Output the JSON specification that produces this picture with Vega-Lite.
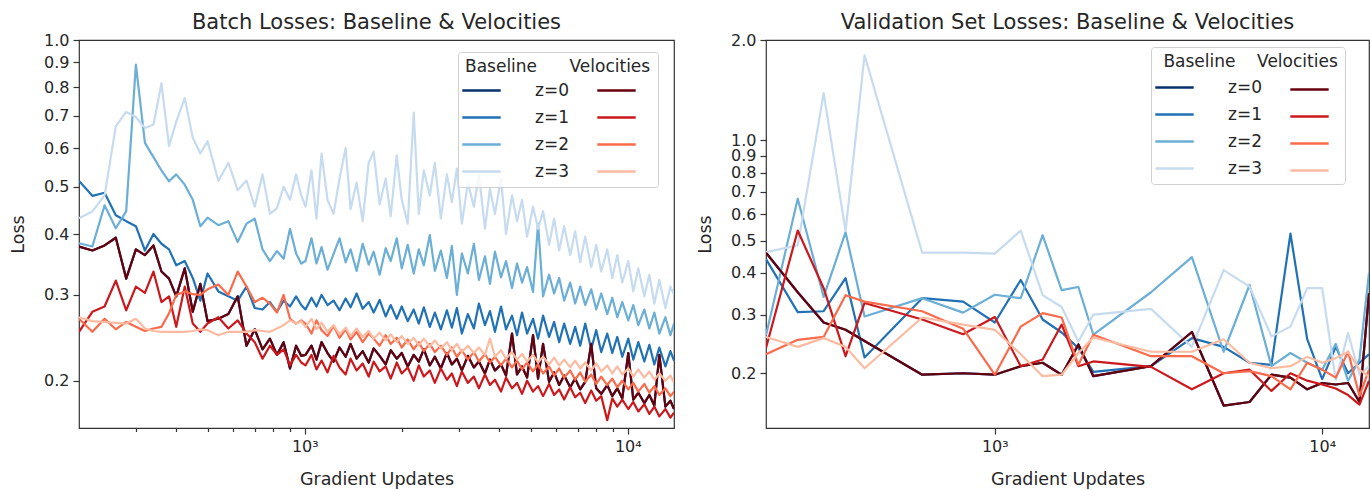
{
  "$schema": "https://vega.github.io/schema/vega-lite/v6.json",
  "background": "white",
  "padding": {"left": 8, "top": 11, "right": 0, "bottom": 0},
  "spacing": 20,
  "config": {
    "font": "DejaVu Sans",
    "view": {"stroke": "#333333", "strokeWidth": 1.2},
    "axis": {"domain": false, "grid": false, "labelFontSize": 16, "labelColor": "#262626", "tickColor": "#333333", "tickWidth": 1.2, "tickSize": 6, "labelPadding": 4, "titleFontSize": 17.5, "titleFontWeight": "normal", "titleColor": "#262626", "labelOverlap": false, "labelFlush": false},
    "title": {"fontSize": 21, "fontWeight": "normal", "color": "#262626", "offset": -1},
    "legend": {"orient": "none", "direction": "vertical", "titleFontSize": 17, "titleFontWeight": "normal", "titleColor": "#262626", "labelFontSize": 17, "labelColor": "#262626", "symbolSize": 576, "symbolStrokeWidth": 2.5, "symbolType": "M-1.6,0H1.6", "rowPadding": 5, "labelLimit": 400, "titleLimit": 400}
  },
  "datasets": {
    "batchBase": [
      {"x":200,"y":0.377,"z":0},{"x":220,"y":0.370,"z":0},{"x":240,"y":0.379,"z":0},{"x":260,"y":0.393,"z":0},{"x":280,"y":0.324,"z":0},{"x":300,"y":0.372,"z":0},{"x":320,"y":0.362,"z":0},{"x":340,"y":0.379,"z":0},{"x":360,"y":0.335,"z":0},{"x":380,"y":0.324,"z":0},{"x":400,"y":0.298,"z":0},{"x":425,"y":0.340,"z":0},{"x":450,"y":0.277,"z":0},{"x":475,"y":0.316,"z":0},{"x":500,"y":0.265,"z":0},{"x":540,"y":0.268,"z":0},{"x":580,"y":0.274,"z":0},{"x":620,"y":0.298,"z":0},{"x":660,"y":0.236,"z":0},{"x":700,"y":0.255,"z":0},{"x":740,"y":0.232,"z":0},{"x":780,"y":0.244,"z":0},{"x":820,"y":0.226,"z":0},{"x":860,"y":0.240,"z":0},{"x":900,"y":0.212,"z":0},{"x":940,"y":0.236,"z":0},{"x":975,"y":0.225,"z":0},
      {"x":1005,"y":0.226,"z":0},{"x":1049,"y":0.236,"z":0},{"x":1087,"y":0.221,"z":0},{"x":1127,"y":0.240,"z":0},{"x":1176,"y":0.228,"z":0},{"x":1228,"y":0.219,"z":0},{"x":1281,"y":0.234,"z":0},{"x":1338,"y":0.224,"z":0},{"x":1386,"y":0.238,"z":0},{"x":1447,"y":0.222,"z":0},{"x":1511,"y":0.230,"z":0},{"x":1577,"y":0.218,"z":0},{"x":1634,"y":0.233,"z":0},{"x":1705,"y":0.225,"z":0},{"x":1780,"y":0.216,"z":0},{"x":1845,"y":0.231,"z":0},{"x":1926,"y":0.222,"z":0},{"x":1996,"y":0.228,"z":0},{"x":2083,"y":0.214,"z":0},{"x":2174,"y":0.226,"z":0},{"x":2254,"y":0.219,"z":0},{"x":2336,"y":0.232,"z":0},{"x":2438,"y":0.215,"z":0},{"x":2527,"y":0.224,"z":0},{"x":2638,"y":0.212,"z":0},{"x":2754,"y":0.228,"z":0},{"x":2853,"y":0.216,"z":0},{"x":2957,"y":0.222,"z":0},{"x":3064,"y":0.210,"z":0},{"x":3198,"y":0.225,"z":0},{"x":3338,"y":0.213,"z":0},{"x":3460,"y":0.219,"z":0},{"x":3612,"y":0.207,"z":0},{"x":3743,"y":0.221,"z":0},{"x":3879,"y":0.210,"z":0},{"x":4050,"y":0.216,"z":0},{"x":4197,"y":0.205,"z":0},{"x":4381,"y":0.250,"z":0},{"x":4540,"y":0.206,"z":0},{"x":4705,"y":0.214,"z":0},{"x":4877,"y":0.203,"z":0},{"x":5089,"y":0.248,"z":0},{"x":5274,"y":0.202,"z":0},{"x":5466,"y":0.238,"z":0},{"x":5706,"y":0.199,"z":0},{"x":5914,"y":0.208,"z":0},{"x":6131,"y":0.196,"z":0},{"x":6353,"y":0.205,"z":0},{"x":6631,"y":0.194,"z":0},{"x":6872,"y":0.202,"z":0},{"x":7122,"y":0.192,"z":0},{"x":7382,"y":0.199,"z":0},{"x":7704,"y":0.238,"z":0},{"x":7984,"y":0.193,"z":0},{"x":8275,"y":0.188,"z":0},{"x":8637,"y":0.196,"z":0},{"x":8952,"y":0.186,"z":0},{"x":9278,"y":0.193,"z":0},{"x":9614,"y":0.184,"z":0},{"x":10035,"y":0.228,"z":0},{"x":10399,"y":0.183,"z":0},{"x":10779,"y":0.189,"z":0},{"x":11251,"y":0.180,"z":0},{"x":11660,"y":0.187,"z":0},{"x":12083,"y":0.178,"z":0},{"x":12521,"y":0.226,"z":0},{"x":13075,"y":0.177,"z":0},{"x":13549,"y":0.182,"z":0},{"x":13900,"y":0.175,"z":0},
      {"x":200,"y":0.514,"z":1},{"x":220,"y":0.479,"z":1},{"x":240,"y":0.486,"z":1},{"x":260,"y":0.437,"z":1},{"x":280,"y":0.425,"z":1},{"x":300,"y":0.415,"z":1},{"x":320,"y":0.370,"z":1},{"x":340,"y":0.400,"z":1},{"x":360,"y":0.382,"z":1},{"x":380,"y":0.372,"z":1},{"x":400,"y":0.345,"z":1},{"x":425,"y":0.352,"z":1},{"x":450,"y":0.325,"z":1},{"x":475,"y":0.292,"z":1},{"x":500,"y":0.332,"z":1},{"x":540,"y":0.305,"z":1},{"x":580,"y":0.298,"z":1},{"x":620,"y":0.292,"z":1},{"x":660,"y":0.312,"z":1},{"x":700,"y":0.282,"z":1},{"x":740,"y":0.280,"z":1},{"x":780,"y":0.290,"z":1},{"x":820,"y":0.277,"z":1},{"x":860,"y":0.292,"z":1},{"x":900,"y":0.284,"z":1},{"x":940,"y":0.298,"z":1},{"x":975,"y":0.286,"z":1},
      {"x":1005,"y":0.280,"z":1},{"x":1049,"y":0.296,"z":1},{"x":1087,"y":0.284,"z":1},{"x":1127,"y":0.300,"z":1},{"x":1176,"y":0.286,"z":1},{"x":1228,"y":0.292,"z":1},{"x":1281,"y":0.279,"z":1},{"x":1338,"y":0.295,"z":1},{"x":1386,"y":0.283,"z":1},{"x":1447,"y":0.302,"z":1},{"x":1511,"y":0.281,"z":1},{"x":1577,"y":0.290,"z":1},{"x":1634,"y":0.276,"z":1},{"x":1705,"y":0.293,"z":1},{"x":1780,"y":0.271,"z":1},{"x":1845,"y":0.286,"z":1},{"x":1926,"y":0.268,"z":1},{"x":1996,"y":0.284,"z":1},{"x":2083,"y":0.265,"z":1},{"x":2174,"y":0.280,"z":1},{"x":2254,"y":0.262,"z":1},{"x":2336,"y":0.283,"z":1},{"x":2438,"y":0.258,"z":1},{"x":2527,"y":0.276,"z":1},{"x":2638,"y":0.255,"z":1},{"x":2754,"y":0.279,"z":1},{"x":2853,"y":0.257,"z":1},{"x":2957,"y":0.282,"z":1},{"x":3064,"y":0.250,"z":1},{"x":3198,"y":0.274,"z":1},{"x":3338,"y":0.256,"z":1},{"x":3460,"y":0.288,"z":1},{"x":3612,"y":0.260,"z":1},{"x":3743,"y":0.278,"z":1},{"x":3879,"y":0.252,"z":1},{"x":4050,"y":0.284,"z":1},{"x":4197,"y":0.255,"z":1},{"x":4381,"y":0.272,"z":1},{"x":4540,"y":0.248,"z":1},{"x":4705,"y":0.276,"z":1},{"x":4877,"y":0.250,"z":1},{"x":5089,"y":0.268,"z":1},{"x":5274,"y":0.244,"z":1},{"x":5466,"y":0.272,"z":1},{"x":5706,"y":0.246,"z":1},{"x":5914,"y":0.264,"z":1},{"x":6131,"y":0.240,"z":1},{"x":6353,"y":0.262,"z":1},{"x":6631,"y":0.238,"z":1},{"x":6872,"y":0.258,"z":1},{"x":7122,"y":0.236,"z":1},{"x":7382,"y":0.262,"z":1},{"x":7704,"y":0.232,"z":1},{"x":7984,"y":0.254,"z":1},{"x":8275,"y":0.229,"z":1},{"x":8637,"y":0.250,"z":1},{"x":8952,"y":0.228,"z":1},{"x":9278,"y":0.246,"z":1},{"x":9614,"y":0.224,"z":1},{"x":10035,"y":0.244,"z":1},{"x":10399,"y":0.221,"z":1},{"x":10779,"y":0.240,"z":1},{"x":11251,"y":0.219,"z":1},{"x":11660,"y":0.237,"z":1},{"x":12083,"y":0.216,"z":1},{"x":12521,"y":0.234,"z":1},{"x":13075,"y":0.214,"z":1},{"x":13549,"y":0.230,"z":1},{"x":13900,"y":0.220,"z":1},
      {"x":200,"y":0.383,"z":2},{"x":220,"y":0.377,"z":2},{"x":240,"y":0.458,"z":2},{"x":260,"y":0.411,"z":2},{"x":280,"y":0.445,"z":2},{"x":300,"y":0.890,"z":2},{"x":320,"y":0.615,"z":2},{"x":340,"y":0.575,"z":2},{"x":360,"y":0.540,"z":2},{"x":380,"y":0.513,"z":2},{"x":400,"y":0.530,"z":2},{"x":425,"y":0.505,"z":2},{"x":450,"y":0.470,"z":2},{"x":475,"y":0.415,"z":2},{"x":500,"y":0.432,"z":2},{"x":540,"y":0.417,"z":2},{"x":580,"y":0.425,"z":2},{"x":620,"y":0.385,"z":2},{"x":660,"y":0.420,"z":2},{"x":700,"y":0.430,"z":2},{"x":740,"y":0.372,"z":2},{"x":780,"y":0.352,"z":2},{"x":820,"y":0.369,"z":2},{"x":860,"y":0.356,"z":2},{"x":900,"y":0.410,"z":2},{"x":940,"y":0.365,"z":2},{"x":975,"y":0.348,"z":2},
      {"x":1005,"y":0.352,"z":2},{"x":1049,"y":0.392,"z":2},{"x":1087,"y":0.348,"z":2},{"x":1127,"y":0.376,"z":2},{"x":1176,"y":0.338,"z":2},{"x":1228,"y":0.364,"z":2},{"x":1281,"y":0.392,"z":2},{"x":1338,"y":0.350,"z":2},{"x":1386,"y":0.372,"z":2},{"x":1447,"y":0.336,"z":2},{"x":1511,"y":0.382,"z":2},{"x":1577,"y":0.346,"z":2},{"x":1634,"y":0.368,"z":2},{"x":1705,"y":0.330,"z":2},{"x":1780,"y":0.374,"z":2},{"x":1845,"y":0.352,"z":2},{"x":1926,"y":0.392,"z":2},{"x":1996,"y":0.340,"z":2},{"x":2083,"y":0.380,"z":2},{"x":2174,"y":0.332,"z":2},{"x":2254,"y":0.372,"z":2},{"x":2336,"y":0.345,"z":2},{"x":2438,"y":0.398,"z":2},{"x":2527,"y":0.336,"z":2},{"x":2638,"y":0.370,"z":2},{"x":2754,"y":0.325,"z":2},{"x":2853,"y":0.378,"z":2},{"x":2957,"y":0.300,"z":2},{"x":3064,"y":0.365,"z":2},{"x":3198,"y":0.332,"z":2},{"x":3338,"y":0.382,"z":2},{"x":3460,"y":0.322,"z":2},{"x":3612,"y":0.360,"z":2},{"x":3743,"y":0.316,"z":2},{"x":3879,"y":0.368,"z":2},{"x":4050,"y":0.326,"z":2},{"x":4197,"y":0.352,"z":2},{"x":4381,"y":0.310,"z":2},{"x":4540,"y":0.348,"z":2},{"x":4705,"y":0.318,"z":2},{"x":4877,"y":0.342,"z":2},{"x":5089,"y":0.304,"z":2},{"x":5274,"y":0.420,"z":2},{"x":5466,"y":0.298,"z":2},{"x":5706,"y":0.330,"z":2},{"x":5914,"y":0.302,"z":2},{"x":6131,"y":0.325,"z":2},{"x":6353,"y":0.292,"z":2},{"x":6631,"y":0.318,"z":2},{"x":6872,"y":0.288,"z":2},{"x":7122,"y":0.312,"z":2},{"x":7382,"y":0.286,"z":2},{"x":7704,"y":0.308,"z":2},{"x":7984,"y":0.280,"z":2},{"x":8275,"y":0.302,"z":2},{"x":8637,"y":0.274,"z":2},{"x":8952,"y":0.296,"z":2},{"x":9278,"y":0.270,"z":2},{"x":9614,"y":0.290,"z":2},{"x":10035,"y":0.266,"z":2},{"x":10399,"y":0.286,"z":2},{"x":10779,"y":0.260,"z":2},{"x":11251,"y":0.280,"z":2},{"x":11660,"y":0.256,"z":2},{"x":12083,"y":0.276,"z":2},{"x":12521,"y":0.250,"z":2},{"x":13075,"y":0.270,"z":2},{"x":13549,"y":0.248,"z":2},{"x":13900,"y":0.262,"z":2},
      {"x":200,"y":0.431,"z":3},{"x":220,"y":0.445,"z":3},{"x":240,"y":0.480,"z":3},{"x":260,"y":0.665,"z":3},{"x":280,"y":0.712,"z":3},{"x":300,"y":0.695,"z":3},{"x":320,"y":0.660,"z":3},{"x":340,"y":0.670,"z":3},{"x":360,"y":0.815,"z":3},{"x":380,"y":0.606,"z":3},{"x":400,"y":0.680,"z":3},{"x":425,"y":0.760,"z":3},{"x":450,"y":0.630,"z":3},{"x":475,"y":0.585,"z":3},{"x":500,"y":0.620,"z":3},{"x":540,"y":0.514,"z":3},{"x":580,"y":0.560,"z":3},{"x":620,"y":0.492,"z":3},{"x":660,"y":0.515,"z":3},{"x":700,"y":0.455,"z":3},{"x":740,"y":0.530,"z":3},{"x":780,"y":0.440,"z":3},{"x":820,"y":0.452,"z":3},{"x":860,"y":0.500,"z":3},{"x":900,"y":0.470,"z":3},{"x":940,"y":0.530,"z":3},{"x":975,"y":0.480,"z":3},
      {"x":1005,"y":0.455,"z":3},{"x":1049,"y":0.540,"z":3},{"x":1087,"y":0.430,"z":3},{"x":1127,"y":0.585,"z":3},{"x":1176,"y":0.470,"z":3},{"x":1228,"y":0.440,"z":3},{"x":1281,"y":0.520,"z":3},{"x":1338,"y":0.600,"z":3},{"x":1386,"y":0.450,"z":3},{"x":1447,"y":0.510,"z":3},{"x":1511,"y":0.425,"z":3},{"x":1577,"y":0.560,"z":3},{"x":1634,"y":0.590,"z":3},{"x":1705,"y":0.460,"z":3},{"x":1780,"y":0.520,"z":3},{"x":1845,"y":0.435,"z":3},{"x":1926,"y":0.580,"z":3},{"x":1996,"y":0.470,"z":3},{"x":2083,"y":0.420,"z":3},{"x":2174,"y":0.710,"z":3},{"x":2254,"y":0.440,"z":3},{"x":2336,"y":0.540,"z":3},{"x":2438,"y":0.480,"z":3},{"x":2527,"y":0.560,"z":3},{"x":2638,"y":0.430,"z":3},{"x":2754,"y":0.530,"z":3},{"x":2853,"y":0.465,"z":3},{"x":2957,"y":0.545,"z":3},{"x":3064,"y":0.420,"z":3},{"x":3198,"y":0.510,"z":3},{"x":3338,"y":0.455,"z":3},{"x":3460,"y":0.530,"z":3},{"x":3612,"y":0.410,"z":3},{"x":3743,"y":0.495,"z":3},{"x":3879,"y":0.440,"z":3},{"x":4050,"y":0.520,"z":3},{"x":4197,"y":0.400,"z":3},{"x":4381,"y":0.480,"z":3},{"x":4540,"y":0.425,"z":3},{"x":4705,"y":0.470,"z":3},{"x":4877,"y":0.395,"z":3},{"x":5089,"y":0.455,"z":3},{"x":5274,"y":0.410,"z":3},{"x":5466,"y":0.445,"z":3},{"x":5706,"y":0.380,"z":3},{"x":5914,"y":0.430,"z":3},{"x":6131,"y":0.370,"z":3},{"x":6353,"y":0.415,"z":3},{"x":6631,"y":0.362,"z":3},{"x":6872,"y":0.405,"z":3},{"x":7122,"y":0.350,"z":3},{"x":7382,"y":0.395,"z":3},{"x":7704,"y":0.342,"z":3},{"x":7984,"y":0.380,"z":3},{"x":8275,"y":0.335,"z":3},{"x":8637,"y":0.372,"z":3},{"x":8952,"y":0.325,"z":3},{"x":9278,"y":0.362,"z":3},{"x":9614,"y":0.318,"z":3},{"x":10035,"y":0.352,"z":3},{"x":10399,"y":0.305,"z":3},{"x":10779,"y":0.340,"z":3},{"x":11251,"y":0.298,"z":3},{"x":11660,"y":0.330,"z":3},{"x":12083,"y":0.288,"z":3},{"x":12521,"y":0.322,"z":3},{"x":13075,"y":0.282,"z":3},{"x":13549,"y":0.312,"z":3},{"x":13900,"y":0.300,"z":3}
    ],
    "batchVel": [
      {"x":200,"y":0.377,"z":0},{"x":220,"y":0.370,"z":0},{"x":240,"y":0.379,"z":0},{"x":260,"y":0.393,"z":0},{"x":280,"y":0.324,"z":0},{"x":300,"y":0.372,"z":0},{"x":320,"y":0.362,"z":0},{"x":340,"y":0.379,"z":0},{"x":360,"y":0.335,"z":0},{"x":380,"y":0.324,"z":0},{"x":400,"y":0.298,"z":0},{"x":425,"y":0.340,"z":0},{"x":450,"y":0.277,"z":0},{"x":475,"y":0.316,"z":0},{"x":500,"y":0.265,"z":0},{"x":540,"y":0.268,"z":0},{"x":580,"y":0.274,"z":0},{"x":620,"y":0.298,"z":0},{"x":660,"y":0.236,"z":0},{"x":700,"y":0.255,"z":0},{"x":740,"y":0.232,"z":0},{"x":780,"y":0.244,"z":0},{"x":820,"y":0.226,"z":0},{"x":860,"y":0.240,"z":0},{"x":900,"y":0.212,"z":0},{"x":940,"y":0.236,"z":0},{"x":975,"y":0.225,"z":0},
      {"x":1005,"y":0.226,"z":0},{"x":1049,"y":0.236,"z":0},{"x":1087,"y":0.221,"z":0},{"x":1127,"y":0.240,"z":0},{"x":1176,"y":0.228,"z":0},{"x":1228,"y":0.219,"z":0},{"x":1281,"y":0.234,"z":0},{"x":1338,"y":0.224,"z":0},{"x":1386,"y":0.238,"z":0},{"x":1447,"y":0.222,"z":0},{"x":1511,"y":0.230,"z":0},{"x":1577,"y":0.218,"z":0},{"x":1634,"y":0.233,"z":0},{"x":1705,"y":0.225,"z":0},{"x":1780,"y":0.216,"z":0},{"x":1845,"y":0.231,"z":0},{"x":1926,"y":0.222,"z":0},{"x":1996,"y":0.228,"z":0},{"x":2083,"y":0.214,"z":0},{"x":2174,"y":0.226,"z":0},{"x":2254,"y":0.219,"z":0},{"x":2336,"y":0.232,"z":0},{"x":2438,"y":0.215,"z":0},{"x":2527,"y":0.224,"z":0},{"x":2638,"y":0.212,"z":0},{"x":2754,"y":0.228,"z":0},{"x":2853,"y":0.216,"z":0},{"x":2957,"y":0.222,"z":0},{"x":3064,"y":0.210,"z":0},{"x":3198,"y":0.225,"z":0},{"x":3338,"y":0.213,"z":0},{"x":3460,"y":0.219,"z":0},{"x":3612,"y":0.207,"z":0},{"x":3743,"y":0.221,"z":0},{"x":3879,"y":0.210,"z":0},{"x":4050,"y":0.216,"z":0},{"x":4197,"y":0.205,"z":0},{"x":4381,"y":0.250,"z":0},{"x":4540,"y":0.206,"z":0},{"x":4705,"y":0.214,"z":0},{"x":4877,"y":0.203,"z":0},{"x":5089,"y":0.248,"z":0},{"x":5274,"y":0.202,"z":0},{"x":5466,"y":0.238,"z":0},{"x":5706,"y":0.199,"z":0},{"x":5914,"y":0.208,"z":0},{"x":6131,"y":0.196,"z":0},{"x":6353,"y":0.205,"z":0},{"x":6631,"y":0.194,"z":0},{"x":6872,"y":0.202,"z":0},{"x":7122,"y":0.192,"z":0},{"x":7382,"y":0.199,"z":0},{"x":7704,"y":0.238,"z":0},{"x":7984,"y":0.193,"z":0},{"x":8275,"y":0.188,"z":0},{"x":8637,"y":0.196,"z":0},{"x":8952,"y":0.186,"z":0},{"x":9278,"y":0.193,"z":0},{"x":9614,"y":0.184,"z":0},{"x":10035,"y":0.228,"z":0},{"x":10399,"y":0.183,"z":0},{"x":10779,"y":0.189,"z":0},{"x":11251,"y":0.180,"z":0},{"x":11660,"y":0.187,"z":0},{"x":12083,"y":0.178,"z":0},{"x":12521,"y":0.226,"z":0},{"x":13075,"y":0.177,"z":0},{"x":13549,"y":0.182,"z":0},{"x":13900,"y":0.175,"z":0},
      {"x":200,"y":0.252,"z":1},{"x":220,"y":0.277,"z":1},{"x":240,"y":0.284,"z":1},{"x":260,"y":0.321,"z":1},{"x":280,"y":0.279,"z":1},{"x":300,"y":0.312,"z":1},{"x":320,"y":0.303,"z":1},{"x":340,"y":0.335,"z":1},{"x":360,"y":0.290,"z":1},{"x":380,"y":0.298,"z":1},{"x":400,"y":0.258,"z":1},{"x":425,"y":0.312,"z":1},{"x":450,"y":0.262,"z":1},{"x":475,"y":0.252,"z":1},{"x":500,"y":0.262,"z":1},{"x":540,"y":0.270,"z":1},{"x":580,"y":0.256,"z":1},{"x":620,"y":0.266,"z":1},{"x":660,"y":0.250,"z":1},{"x":700,"y":0.240,"z":1},{"x":740,"y":0.222,"z":1},{"x":780,"y":0.236,"z":1},{"x":820,"y":0.226,"z":1},{"x":860,"y":0.232,"z":1},{"x":900,"y":0.215,"z":1},{"x":940,"y":0.226,"z":1},{"x":975,"y":0.218,"z":1},
      {"x":1005,"y":0.215,"z":1},{"x":1049,"y":0.226,"z":1},{"x":1087,"y":0.211,"z":1},{"x":1127,"y":0.220,"z":1},{"x":1176,"y":0.208,"z":1},{"x":1228,"y":0.225,"z":1},{"x":1281,"y":0.213,"z":1},{"x":1338,"y":0.206,"z":1},{"x":1386,"y":0.222,"z":1},{"x":1447,"y":0.210,"z":1},{"x":1511,"y":0.217,"z":1},{"x":1577,"y":0.204,"z":1},{"x":1634,"y":0.219,"z":1},{"x":1705,"y":0.209,"z":1},{"x":1780,"y":0.214,"z":1},{"x":1845,"y":0.202,"z":1},{"x":1926,"y":0.218,"z":1},{"x":1996,"y":0.207,"z":1},{"x":2083,"y":0.213,"z":1},{"x":2174,"y":0.200,"z":1},{"x":2254,"y":0.215,"z":1},{"x":2336,"y":0.204,"z":1},{"x":2438,"y":0.210,"z":1},{"x":2527,"y":0.198,"z":1},{"x":2638,"y":0.212,"z":1},{"x":2754,"y":0.201,"z":1},{"x":2853,"y":0.207,"z":1},{"x":2957,"y":0.195,"z":1},{"x":3064,"y":0.209,"z":1},{"x":3198,"y":0.198,"z":1},{"x":3338,"y":0.204,"z":1},{"x":3460,"y":0.193,"z":1},{"x":3612,"y":0.206,"z":1},{"x":3743,"y":0.196,"z":1},{"x":3879,"y":0.201,"z":1},{"x":4050,"y":0.190,"z":1},{"x":4197,"y":0.203,"z":1},{"x":4381,"y":0.193,"z":1},{"x":4540,"y":0.198,"z":1},{"x":4705,"y":0.188,"z":1},{"x":4877,"y":0.200,"z":1},{"x":5089,"y":0.190,"z":1},{"x":5274,"y":0.195,"z":1},{"x":5466,"y":0.186,"z":1},{"x":5706,"y":0.197,"z":1},{"x":5914,"y":0.187,"z":1},{"x":6131,"y":0.192,"z":1},{"x":6353,"y":0.183,"z":1},{"x":6631,"y":0.194,"z":1},{"x":6872,"y":0.185,"z":1},{"x":7122,"y":0.189,"z":1},{"x":7382,"y":0.180,"z":1},{"x":7704,"y":0.191,"z":1},{"x":7984,"y":0.182,"z":1},{"x":8275,"y":0.186,"z":1},{"x":8637,"y":0.166,"z":1},{"x":8952,"y":0.184,"z":1},{"x":9278,"y":0.177,"z":1},{"x":9614,"y":0.183,"z":1},{"x":10035,"y":0.175,"z":1},{"x":10399,"y":0.181,"z":1},{"x":10779,"y":0.173,"z":1},{"x":11251,"y":0.179,"z":1},{"x":11660,"y":0.171,"z":1},{"x":12083,"y":0.177,"z":1},{"x":12521,"y":0.169,"z":1},{"x":13075,"y":0.175,"z":1},{"x":13549,"y":0.168,"z":1},{"x":13900,"y":0.172,"z":1},
      {"x":200,"y":0.268,"z":2},{"x":220,"y":0.252,"z":2},{"x":240,"y":0.268,"z":2},{"x":260,"y":0.255,"z":2},{"x":280,"y":0.264,"z":2},{"x":300,"y":0.258,"z":2},{"x":320,"y":0.253,"z":2},{"x":340,"y":0.256,"z":2},{"x":360,"y":0.258,"z":2},{"x":380,"y":0.275,"z":2},{"x":400,"y":0.300,"z":2},{"x":425,"y":0.305,"z":2},{"x":450,"y":0.301,"z":2},{"x":475,"y":0.300,"z":2},{"x":500,"y":0.308,"z":2},{"x":540,"y":0.315,"z":2},{"x":580,"y":0.300,"z":2},{"x":620,"y":0.335,"z":2},{"x":660,"y":0.312,"z":2},{"x":700,"y":0.290,"z":2},{"x":740,"y":0.296,"z":2},{"x":780,"y":0.288,"z":2},{"x":820,"y":0.276,"z":2},{"x":860,"y":0.300,"z":2},{"x":900,"y":0.268,"z":2},{"x":940,"y":0.262,"z":2},{"x":975,"y":0.266,"z":2},
      {"x":1005,"y":0.262,"z":2},{"x":1049,"y":0.250,"z":2},{"x":1087,"y":0.266,"z":2},{"x":1127,"y":0.254,"z":2},{"x":1176,"y":0.247,"z":2},{"x":1228,"y":0.259,"z":2},{"x":1281,"y":0.245,"z":2},{"x":1338,"y":0.255,"z":2},{"x":1386,"y":0.243,"z":2},{"x":1447,"y":0.252,"z":2},{"x":1511,"y":0.240,"z":2},{"x":1577,"y":0.250,"z":2},{"x":1634,"y":0.244,"z":2},{"x":1705,"y":0.236,"z":2},{"x":1780,"y":0.248,"z":2},{"x":1845,"y":0.238,"z":2},{"x":1926,"y":0.245,"z":2},{"x":1996,"y":0.234,"z":2},{"x":2083,"y":0.243,"z":2},{"x":2174,"y":0.232,"z":2},{"x":2254,"y":0.240,"z":2},{"x":2336,"y":0.230,"z":2},{"x":2438,"y":0.238,"z":2},{"x":2527,"y":0.229,"z":2},{"x":2638,"y":0.236,"z":2},{"x":2754,"y":0.226,"z":2},{"x":2853,"y":0.234,"z":2},{"x":2957,"y":0.224,"z":2},{"x":3064,"y":0.231,"z":2},{"x":3198,"y":0.221,"z":2},{"x":3338,"y":0.229,"z":2},{"x":3460,"y":0.219,"z":2},{"x":3612,"y":0.227,"z":2},{"x":3743,"y":0.218,"z":2},{"x":3879,"y":0.224,"z":2},{"x":4050,"y":0.215,"z":2},{"x":4197,"y":0.222,"z":2},{"x":4381,"y":0.213,"z":2},{"x":4540,"y":0.220,"z":2},{"x":4705,"y":0.211,"z":2},{"x":4877,"y":0.218,"z":2},{"x":5089,"y":0.209,"z":2},{"x":5274,"y":0.216,"z":2},{"x":5466,"y":0.207,"z":2},{"x":5706,"y":0.214,"z":2},{"x":5914,"y":0.205,"z":2},{"x":6131,"y":0.212,"z":2},{"x":6353,"y":0.203,"z":2},{"x":6631,"y":0.210,"z":2},{"x":6872,"y":0.201,"z":2},{"x":7122,"y":0.208,"z":2},{"x":7382,"y":0.199,"z":2},{"x":7704,"y":0.206,"z":2},{"x":7984,"y":0.197,"z":2},{"x":8275,"y":0.204,"z":2},{"x":8637,"y":0.196,"z":2},{"x":8952,"y":0.202,"z":2},{"x":9278,"y":0.194,"z":2},{"x":9614,"y":0.200,"z":2},{"x":10035,"y":0.192,"z":2},{"x":10399,"y":0.198,"z":2},{"x":10779,"y":0.190,"z":2},{"x":11251,"y":0.197,"z":2},{"x":11660,"y":0.189,"z":2},{"x":12083,"y":0.195,"z":2},{"x":12521,"y":0.187,"z":2},{"x":13075,"y":0.193,"z":2},{"x":13549,"y":0.186,"z":2},{"x":13900,"y":0.190,"z":2},
      {"x":200,"y":0.270,"z":3},{"x":220,"y":0.265,"z":3},{"x":240,"y":0.264,"z":3},{"x":260,"y":0.263,"z":3},{"x":280,"y":0.262,"z":3},{"x":300,"y":0.268,"z":3},{"x":320,"y":0.256,"z":3},{"x":340,"y":0.253,"z":3},{"x":360,"y":0.252,"z":3},{"x":380,"y":0.252,"z":3},{"x":400,"y":0.252,"z":3},{"x":425,"y":0.252,"z":3},{"x":450,"y":0.253,"z":3},{"x":475,"y":0.255,"z":3},{"x":500,"y":0.254,"z":3},{"x":540,"y":0.248,"z":3},{"x":580,"y":0.252,"z":3},{"x":620,"y":0.252,"z":3},{"x":660,"y":0.252,"z":3},{"x":700,"y":0.254,"z":3},{"x":740,"y":0.253,"z":3},{"x":780,"y":0.252,"z":3},{"x":820,"y":0.256,"z":3},{"x":860,"y":0.260,"z":3},{"x":900,"y":0.266,"z":3},{"x":940,"y":0.262,"z":3},{"x":975,"y":0.265,"z":3},
      {"x":1005,"y":0.258,"z":3},{"x":1049,"y":0.268,"z":3},{"x":1087,"y":0.255,"z":3},{"x":1127,"y":0.263,"z":3},{"x":1176,"y":0.252,"z":3},{"x":1228,"y":0.260,"z":3},{"x":1281,"y":0.249,"z":3},{"x":1338,"y":0.257,"z":3},{"x":1386,"y":0.247,"z":3},{"x":1447,"y":0.256,"z":3},{"x":1511,"y":0.246,"z":3},{"x":1577,"y":0.253,"z":3},{"x":1634,"y":0.244,"z":3},{"x":1705,"y":0.251,"z":3},{"x":1780,"y":0.242,"z":3},{"x":1845,"y":0.249,"z":3},{"x":1926,"y":0.240,"z":3},{"x":1996,"y":0.247,"z":3},{"x":2083,"y":0.238,"z":3},{"x":2174,"y":0.245,"z":3},{"x":2254,"y":0.236,"z":3},{"x":2336,"y":0.244,"z":3},{"x":2438,"y":0.235,"z":3},{"x":2527,"y":0.242,"z":3},{"x":2638,"y":0.233,"z":3},{"x":2754,"y":0.240,"z":3},{"x":2853,"y":0.231,"z":3},{"x":2957,"y":0.238,"z":3},{"x":3064,"y":0.229,"z":3},{"x":3198,"y":0.236,"z":3},{"x":3338,"y":0.228,"z":3},{"x":3460,"y":0.234,"z":3},{"x":3612,"y":0.226,"z":3},{"x":3743,"y":0.244,"z":3},{"x":3879,"y":0.224,"z":3},{"x":4050,"y":0.231,"z":3},{"x":4197,"y":0.222,"z":3},{"x":4381,"y":0.229,"z":3},{"x":4540,"y":0.221,"z":3},{"x":4705,"y":0.227,"z":3},{"x":4877,"y":0.219,"z":3},{"x":5089,"y":0.226,"z":3},{"x":5274,"y":0.218,"z":3},{"x":5466,"y":0.224,"z":3},{"x":5706,"y":0.216,"z":3},{"x":5914,"y":0.223,"z":3},{"x":6131,"y":0.215,"z":3},{"x":6353,"y":0.221,"z":3},{"x":6631,"y":0.213,"z":3},{"x":6872,"y":0.220,"z":3},{"x":7122,"y":0.212,"z":3},{"x":7382,"y":0.218,"z":3},{"x":7704,"y":0.210,"z":3},{"x":7984,"y":0.217,"z":3},{"x":8275,"y":0.209,"z":3},{"x":8637,"y":0.215,"z":3},{"x":8952,"y":0.207,"z":3},{"x":9278,"y":0.214,"z":3},{"x":9614,"y":0.206,"z":3},{"x":10035,"y":0.212,"z":3},{"x":10399,"y":0.204,"z":3},{"x":10779,"y":0.211,"z":3},{"x":11251,"y":0.203,"z":3},{"x":11660,"y":0.209,"z":3},{"x":12083,"y":0.201,"z":3},{"x":12521,"y":0.207,"z":3},{"x":13075,"y":0.200,"z":3},{"x":13549,"y":0.205,"z":3},{"x":13900,"y":0.198,"z":3}
    ],
    "valBase": [
      {"x":200,"y":0.46,"z":0},{"x":250,"y":0.35,"z":0},{"x":300,"y":0.284,"z":0},{"x":350,"y":0.27,"z":0},{"x":400,"y":0.25,"z":0},{"x":600,"y":0.198,"z":0},{"x":800,"y":0.2,"z":0},{"x":1000,"y":0.198,"z":0},{"x":1200,"y":0.21,"z":0},{"x":1400,"y":0.215,"z":0},{"x":1600,"y":0.198,"z":0},{"x":1800,"y":0.244,"z":0},{"x":2000,"y":0.196,"z":0},{"x":3000,"y":0.21,"z":0},{"x":4000,"y":0.266,"z":0},{"x":5000,"y":0.16,"z":0},{"x":6000,"y":0.164,"z":0},{"x":7000,"y":0.198,"z":0},{"x":8000,"y":0.194,"z":0},{"x":9000,"y":0.179,"z":0},{"x":10000,"y":0.187,"z":0},{"x":11000,"y":0.185,"z":0},{"x":12000,"y":0.187,"z":0},{"x":13000,"y":0.164,"z":0},{"x":13900,"y":0.348,"z":0},
      {"x":200,"y":0.44,"z":1},{"x":250,"y":0.305,"z":1},{"x":300,"y":0.307,"z":1},{"x":350,"y":0.386,"z":1},{"x":400,"y":0.223,"z":1},{"x":600,"y":0.336,"z":1},{"x":800,"y":0.328,"z":1},{"x":1000,"y":0.284,"z":1},{"x":1200,"y":0.381,"z":1},{"x":1400,"y":0.29,"z":1},{"x":1600,"y":0.265,"z":1},{"x":1800,"y":0.238,"z":1},{"x":2000,"y":0.202,"z":1},{"x":3000,"y":0.21,"z":1},{"x":4000,"y":0.255,"z":1},{"x":5000,"y":0.24,"z":1},{"x":6000,"y":0.215,"z":1},{"x":7000,"y":0.212,"z":1},{"x":8000,"y":0.525,"z":1},{"x":9000,"y":0.253,"z":1},{"x":10000,"y":0.192,"z":1},{"x":11000,"y":0.24,"z":1},{"x":12000,"y":0.2,"z":1},{"x":13000,"y":0.215,"z":1},{"x":13900,"y":0.228,"z":1},
      {"x":200,"y":0.26,"z":2},{"x":250,"y":0.668,"z":2},{"x":300,"y":0.339,"z":2},{"x":350,"y":0.53,"z":2},{"x":400,"y":0.296,"z":2},{"x":600,"y":0.336,"z":2},{"x":800,"y":0.304,"z":2},{"x":1000,"y":0.344,"z":2},{"x":1200,"y":0.336,"z":2},{"x":1400,"y":0.519,"z":2},{"x":1600,"y":0.355,"z":2},{"x":1800,"y":0.363,"z":2},{"x":2000,"y":0.261,"z":2},{"x":3000,"y":0.35,"z":2},{"x":4000,"y":0.446,"z":2},{"x":5000,"y":0.232,"z":2},{"x":6000,"y":0.368,"z":2},{"x":7000,"y":0.21,"z":2},{"x":8000,"y":0.23,"z":2},{"x":9000,"y":0.215,"z":2},{"x":10000,"y":0.205,"z":2},{"x":11000,"y":0.245,"z":2},{"x":12000,"y":0.19,"z":2},{"x":13000,"y":0.22,"z":2},{"x":13900,"y":0.40,"z":2},
      {"x":200,"y":0.462,"z":3},{"x":250,"y":0.484,"z":3},{"x":300,"y":1.385,"z":3},{"x":350,"y":0.535,"z":3},{"x":400,"y":1.80,"z":3},{"x":600,"y":0.46,"z":3},{"x":800,"y":0.46,"z":3},{"x":1000,"y":0.457,"z":3},{"x":1200,"y":0.536,"z":3},{"x":1400,"y":0.343,"z":3},{"x":1600,"y":0.316,"z":3},{"x":1800,"y":0.249,"z":3},{"x":2000,"y":0.30,"z":3},{"x":3000,"y":0.312,"z":3},{"x":4000,"y":0.24,"z":3},{"x":5000,"y":0.408,"z":3},{"x":6000,"y":0.364,"z":3},{"x":7000,"y":0.258,"z":3},{"x":8000,"y":0.276,"z":3},{"x":9000,"y":0.36,"z":3},{"x":10000,"y":0.36,"z":3},{"x":11000,"y":0.191,"z":3},{"x":12000,"y":0.264,"z":3},{"x":13000,"y":0.198,"z":3},{"x":13900,"y":0.21,"z":3}
    ],
    "valVel": [
      {"x":200,"y":0.46,"z":0},{"x":250,"y":0.35,"z":0},{"x":300,"y":0.284,"z":0},{"x":350,"y":0.27,"z":0},{"x":400,"y":0.25,"z":0},{"x":600,"y":0.198,"z":0},{"x":800,"y":0.2,"z":0},{"x":1000,"y":0.198,"z":0},{"x":1200,"y":0.21,"z":0},{"x":1400,"y":0.215,"z":0},{"x":1600,"y":0.198,"z":0},{"x":1800,"y":0.244,"z":0},{"x":2000,"y":0.196,"z":0},{"x":3000,"y":0.21,"z":0},{"x":4000,"y":0.266,"z":0},{"x":5000,"y":0.16,"z":0},{"x":6000,"y":0.164,"z":0},{"x":7000,"y":0.198,"z":0},{"x":8000,"y":0.194,"z":0},{"x":9000,"y":0.179,"z":0},{"x":10000,"y":0.187,"z":0},{"x":11000,"y":0.185,"z":0},{"x":12000,"y":0.187,"z":0},{"x":13000,"y":0.164,"z":0},{"x":13900,"y":0.348,"z":0},
      {"x":200,"y":0.238,"z":1},{"x":250,"y":0.536,"z":1},{"x":300,"y":0.36,"z":1},{"x":350,"y":0.225,"z":1},{"x":400,"y":0.325,"z":1},{"x":600,"y":0.29,"z":1},{"x":800,"y":0.262,"z":1},{"x":1000,"y":0.295,"z":1},{"x":1200,"y":0.21,"z":1},{"x":1400,"y":0.22,"z":1},{"x":1600,"y":0.28,"z":1},{"x":1800,"y":0.21,"z":1},{"x":2000,"y":0.217,"z":1},{"x":3000,"y":0.209,"z":1},{"x":4000,"y":0.179,"z":1},{"x":5000,"y":0.2,"z":1},{"x":6000,"y":0.205,"z":1},{"x":7000,"y":0.177,"z":1},{"x":8000,"y":0.2,"z":1},{"x":9000,"y":0.19,"z":1},{"x":10000,"y":0.185,"z":1},{"x":11000,"y":0.18,"z":1},{"x":12000,"y":0.172,"z":1},{"x":13000,"y":0.161,"z":1},{"x":13900,"y":0.19,"z":1},
      {"x":200,"y":0.228,"z":2},{"x":250,"y":0.252,"z":2},{"x":300,"y":0.257,"z":2},{"x":350,"y":0.343,"z":2},{"x":400,"y":0.328,"z":2},{"x":600,"y":0.307,"z":2},{"x":800,"y":0.272,"z":2},{"x":1000,"y":0.198,"z":2},{"x":1200,"y":0.276,"z":2},{"x":1400,"y":0.303,"z":2},{"x":1600,"y":0.294,"z":2},{"x":1800,"y":0.212,"z":2},{"x":2000,"y":0.261,"z":2},{"x":3000,"y":0.225,"z":2},{"x":4000,"y":0.225,"z":2},{"x":5000,"y":0.2,"z":2},{"x":6000,"y":0.203,"z":2},{"x":7000,"y":0.196,"z":2},{"x":8000,"y":0.179,"z":2},{"x":9000,"y":0.215,"z":2},{"x":10000,"y":0.205,"z":2},{"x":11000,"y":0.194,"z":2},{"x":12000,"y":0.232,"z":2},{"x":13000,"y":0.171,"z":2},{"x":13900,"y":0.205,"z":2},
      {"x":200,"y":0.257,"z":3},{"x":250,"y":0.24,"z":3},{"x":300,"y":0.255,"z":3},{"x":350,"y":0.24,"z":3},{"x":400,"y":0.207,"z":3},{"x":600,"y":0.294,"z":3},{"x":800,"y":0.28,"z":3},{"x":1000,"y":0.27,"z":3},{"x":1200,"y":0.228,"z":3},{"x":1400,"y":0.196,"z":3},{"x":1600,"y":0.198,"z":3},{"x":1800,"y":0.23,"z":3},{"x":2000,"y":0.256,"z":3},{"x":3000,"y":0.232,"z":3},{"x":4000,"y":0.232,"z":3},{"x":5000,"y":0.253,"z":3},{"x":6000,"y":0.215,"z":3},{"x":7000,"y":0.207,"z":3},{"x":8000,"y":0.21,"z":3},{"x":9000,"y":0.224,"z":3},{"x":10000,"y":0.215,"z":3},{"x":11000,"y":0.222,"z":3},{"x":12000,"y":0.232,"z":3},{"x":13000,"y":0.205,"z":3},{"x":13900,"y":0.195,"z":3}
    ]
  },
  "hconcat": [
    {
      "title": "Batch Losses: Baseline & Velocities",
      "width": 595,
      "height": 388,
      "layer": [
        {
          "data": {"name": "batchBase"},
          "mark": {"type": "line", "strokeWidth": 2.2, "strokeJoin": "round", "clip": true},
          "encoding": {
            "x": {"field": "x", "type": "quantitative", "scale": {"type": "log", "domain": [200, 13900], "nice": false},
                  "axis": {"values": [1000, 10000], "labelExpr": "datum.value == 1000 ? '10\u00b3' : '10\u2074'", "title": "Gradient Updates", "titlePadding": 16}},
            "y": {"field": "y", "type": "quantitative", "scale": {"type": "log", "domain": [0.16, 1.0], "nice": false},
                  "axis": {"values": [0.2, 0.3, 0.4, 0.5, 0.6, 0.7, 0.8, 0.9, 1.0], "format": ".1f", "title": "Loss", "titlePadding": 16}},
            "color": {"field": "z", "type": "nominal",
                      "scale": {"domain": [0, 1, 2, 3], "range": ["#08306b", "#2171b5", "#6baed6", "#c6dbef"]},
                      "legend": {"legendX": 379, "legendY": 12, "title": "Baseline\u00a0\u00a0\u00a0\u00a0\u00a0\u00a0Velocities", "titlePadding": 1, "padding": 7, "symbolOffset": 3, "labelOffset": 40,
                                 "labelExpr": "'z=' + datum.label + '\u00a0\u00a0\u00a0\u00a0\u00a0\u00a0\u00a0\u00a0\u00a0\u00a0\u00a0\u00a0\u00a0\u00a0\u00a0\u00a0\u00a0\u00a0\u00a0'",
                                 "strokeColor": "#d0d0d0", "fillColor": "rgba(255,255,255,0.8)", "cornerRadius": 3}}
          }
        },
        {
          "data": {"name": "batchVel"},
          "mark": {"type": "line", "strokeWidth": 2.2, "strokeJoin": "round", "clip": true},
          "encoding": {
            "x": {"field": "x", "type": "quantitative", "scale": {"type": "log", "domain": [200, 13900], "nice": false},
                  "axis": {"orient": "bottom", "values": [300, 400, 500, 600, 700, 800, 900, 2000, 3000, 4000, 5000, 6000, 7000, 8000, 9000], "labels": false, "title": null, "tickSize": 3.5}},
            "y": {"field": "y", "type": "quantitative", "scale": {"type": "log", "domain": [0.16, 1.0], "nice": false},
                  "axis": {"values": [0.2, 0.3, 0.4, 0.5, 0.6, 0.7, 0.8, 0.9, 1.0], "format": ".1f", "title": "Loss", "titlePadding": 16}},
            "color": {"field": "z", "type": "nominal",
                      "scale": {"domain": [0, 1, 2, 3], "range": ["#67000d", "#cb181d", "#fb6a4a", "#fcbba1"]},
                      "legend": {"legendX": 524, "legendY": 37, "title": null, "padding": 0, "symbolOffset": 0, "labelOffset": 0, "labelExpr": "''"}}
          }
        }
      ],
      "resolve": {"scale": {"color": "independent"}, "axis": {"x": "independent"}}
    },
    {
      "title": "Validation Set Losses: Baseline & Velocities",
      "width": 603,
      "height": 388,
      "layer": [
        {
          "data": {"name": "valBase"},
          "mark": {"type": "line", "strokeWidth": 2.2, "strokeJoin": "round", "clip": true},
          "encoding": {
            "x": {"field": "x", "type": "quantitative", "scale": {"type": "log", "domain": [200, 13900], "nice": false},
                  "axis": {"values": [1000, 10000], "labelExpr": "datum.value == 1000 ? '10\u00b3' : '10\u2074'", "title": "Gradient Updates", "titlePadding": 16}},
            "y": {"field": "y", "type": "quantitative", "scale": {"type": "log", "domain": [0.137, 2.0], "nice": false},
                  "axis": {"values": [0.2, 0.3, 0.4, 0.5, 0.6, 0.7, 0.8, 0.9, 1.0, 2.0], "format": ".1f", "title": "Loss", "titlePadding": 16}},
            "color": {"field": "z", "type": "nominal",
                      "scale": {"domain": [0, 1, 2, 3], "range": ["#08306b", "#2171b5", "#6baed6", "#c6dbef"]},
                      "legend": {"legendX": 385, "legendY": 7, "title": "\u200b\u00a0Baseline\u00a0\u00a0\u00a0\u00a0Velocities", "titlePadding": 3, "padding": 7, "symbolOffset": 3, "labelOffset": 40,
                                 "labelExpr": "'z=' + datum.label + '\u00a0\u00a0\u00a0\u00a0\u00a0\u00a0\u00a0\u00a0\u00a0\u00a0\u00a0\u00a0\u00a0\u00a0\u00a0\u00a0\u00a0\u00a0'",
                                 "strokeColor": "#d0d0d0", "fillColor": "rgba(255,255,255,0.8)", "cornerRadius": 3}}
          }
        },
        {
          "data": {"name": "valVel"},
          "mark": {"type": "line", "strokeWidth": 2.2, "strokeJoin": "round", "clip": true},
          "encoding": {
            "x": {"field": "x", "type": "quantitative", "scale": {"type": "log", "domain": [200, 13900], "nice": false}},
            "y": {"field": "y", "type": "quantitative", "scale": {"type": "log", "domain": [0.137, 2.0], "nice": false},
                  "axis": {"values": [0.2, 0.3, 0.4, 0.5, 0.6, 0.7, 0.8, 0.9, 1.0, 2.0], "format": ".1f", "title": "Loss", "titlePadding": 16}},
            "color": {"field": "z", "type": "nominal",
                      "scale": {"domain": [0, 1, 2, 3], "range": ["#67000d", "#cb181d", "#fb6a4a", "#fcbba1"]},
                      "legend": {"legendX": 530, "legendY": 36, "title": null, "padding": 0, "symbolOffset": 0, "labelOffset": 0, "labelExpr": "''"}}
          }
        }
      ],
      "resolve": {"scale": {"color": "independent"}}
    }
  ]
}
